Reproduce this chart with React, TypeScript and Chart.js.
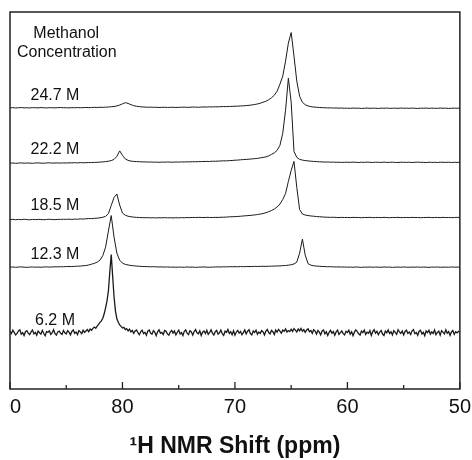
import React, { useEffect, useRef } from "react";
import { Chart, registerables } from "chart.js";

Chart.register(...registerables);

// Chemical shift grid (ppm), 90 -> 50, used by the 12.3–24.7 M spectra
const ppm = [
  90, 89.75, 89.5, 89.25, 89, 88.75, 88.5, 88.25, 88, 87.75, 87.5, 87.25, 87, 86.75, 86.5, 86.25, 86, 85.75, 85.5, 85.25,
  85, 84.75, 84.5, 84.25, 84, 83.75, 83.5, 83.25, 83, 82.75, 82.5, 82.25, 82, 81.75, 81.5, 81.25, 81, 80.75, 80.5, 80.25,
  80, 79.75, 79.5, 79.25, 79, 78.75, 78.5, 78.25, 78, 77.75, 77.5, 77.25, 77, 76.75, 76.5, 76.25, 76, 75.75, 75.5, 75.25,
  75, 74.75, 74.5, 74.25, 74, 73.75, 73.5, 73.25, 73, 72.75, 72.5, 72.25, 72, 71.75, 71.5, 71.25, 71, 70.75, 70.5, 70.25,
  70, 69.75, 69.5, 69.25, 69, 68.75, 68.5, 68.25, 68, 67.75, 67.5, 67.25, 67, 66.75, 66.5, 66.25, 66, 65.75, 65.5, 65.25,
  65, 64.75, 64.5, 64.25, 64, 63.75, 63.5, 63.25, 63, 62.75, 62.5, 62.25, 62, 61.75, 61.5, 61.25, 61, 60.75, 60.5, 60.25,
  60, 59.75, 59.5, 59.25, 59, 58.75, 58.5, 58.25, 58, 57.75, 57.5, 57.25, 57, 56.75, 56.5, 56.25, 56, 55.75, 55.5, 55.25,
  55, 54.75, 54.5, 54.25, 54, 53.75, 53.5, 53.25, 53, 52.75, 52.5, 52.25, 52, 51.75, 51.5, 51.25, 51, 50.75, 50.5, 50.25,
  50,
];

// finer grid for the noisy 6.2 M spectrum
const ppmFine = [
  90, 89.875, 89.75, 89.625, 89.5, 89.375, 89.25, 89.125, 89, 88.875, 88.75, 88.625, 88.5, 88.375, 88.25, 88.125, 88, 87.875, 87.75, 87.625,
  87.5, 87.375, 87.25, 87.125, 87, 86.875, 86.75, 86.625, 86.5, 86.375, 86.25, 86.125, 86, 85.875, 85.75, 85.625, 85.5, 85.375, 85.25, 85.125,
  85, 84.875, 84.75, 84.625, 84.5, 84.375, 84.25, 84.125, 84, 83.875, 83.75, 83.625, 83.5, 83.375, 83.25, 83.125, 83, 82.875, 82.75, 82.625,
  82.5, 82.375, 82.25, 82.125, 82, 81.875, 81.75, 81.625, 81.5, 81.375, 81.25, 81.125, 81, 80.875, 80.75, 80.625, 80.5, 80.375, 80.25, 80.125,
  80, 79.875, 79.75, 79.625, 79.5, 79.375, 79.25, 79.125, 79, 78.875, 78.75, 78.625, 78.5, 78.375, 78.25, 78.125, 78, 77.875, 77.75, 77.625,
  77.5, 77.375, 77.25, 77.125, 77, 76.875, 76.75, 76.625, 76.5, 76.375, 76.25, 76.125, 76, 75.875, 75.75, 75.625, 75.5, 75.375, 75.25, 75.125,
  75, 74.875, 74.75, 74.625, 74.5, 74.375, 74.25, 74.125, 74, 73.875, 73.75, 73.625, 73.5, 73.375, 73.25, 73.125, 73, 72.875, 72.75, 72.625,
  72.5, 72.375, 72.25, 72.125, 72, 71.875, 71.75, 71.625, 71.5, 71.375, 71.25, 71.125, 71, 70.875, 70.75, 70.625, 70.5, 70.375, 70.25, 70.125,
  70, 69.875, 69.75, 69.625, 69.5, 69.375, 69.25, 69.125, 69, 68.875, 68.75, 68.625, 68.5, 68.375, 68.25, 68.125, 68, 67.875, 67.75, 67.625,
  67.5, 67.375, 67.25, 67.125, 67, 66.875, 66.75, 66.625, 66.5, 66.375, 66.25, 66.125, 66, 65.875, 65.75, 65.625, 65.5, 65.375, 65.25, 65.125,
  65, 64.875, 64.75, 64.625, 64.5, 64.375, 64.25, 64.125, 64, 63.875, 63.75, 63.625, 63.5, 63.375, 63.25, 63.125, 63, 62.875, 62.75, 62.625,
  62.5, 62.375, 62.25, 62.125, 62, 61.875, 61.75, 61.625, 61.5, 61.375, 61.25, 61.125, 61, 60.875, 60.75, 60.625, 60.5, 60.375, 60.25, 60.125,
  60, 59.875, 59.75, 59.625, 59.5, 59.375, 59.25, 59.125, 59, 58.875, 58.75, 58.625, 58.5, 58.375, 58.25, 58.125, 58, 57.875, 57.75, 57.625,
  57.5, 57.375, 57.25, 57.125, 57, 56.875, 56.75, 56.625, 56.5, 56.375, 56.25, 56.125, 56, 55.875, 55.75, 55.625, 55.5, 55.375, 55.25, 55.125,
  55, 54.875, 54.75, 54.625, 54.5, 54.375, 54.25, 54.125, 54, 53.875, 53.75, 53.625, 53.5, 53.375, 53.25, 53.125, 53, 52.875, 52.75, 52.625,
  52.5, 52.375, 52.25, 52.125, 52, 51.875, 51.75, 51.625, 51.5, 51.375, 51.25, 51.125, 51, 50.875, 50.75, 50.625, 50.5, 50.375, 50.25, 50.125,
  50,
];

const concentrations = ["6.2 M", "12.3 M", "18.5 M", "22.2 M", "24.7 M"];
// vertical stacking offset of each spectrum (intensity units)
const offsets = [56, 121.5, 171, 226, 280];

const spec62 = [
  1.5, -0.8, 2.6, 0.4, -2.1, -0.6, 1.9, 3.0, -1.4, 0.2, -2.7, 1.1, 2.2, -0.3, -1.8, 0.9, 2.8, -1.0, 0.5, -2.4,
  1.7, 0.1, -1.2, 2.5, -0.7, -2.9, 1.3, 0.6, 2.0, -1.5, 0.3, 3.1, -0.9, -2.2, 1.0, 1.8, -0.4, -1.6, 2.4, 0.0,
  -1.1, 2.2, 0.7, -2.0, 1.4, 2.9, -0.5, 0.8, -1.7, 2.3, 1.0, -0.9, 2.7, 0.4, 1.9, 3.3, 1.2, 3.8, 2.6, 4.5,
  5.8, 4.6, 6.8, 8.5, 10.5, 12, 14.5, 19, 25, 32, 42, 61, 78, 57, 36, 22, 14, 10.5, 8, 6.5,
  4.8, 5.5, 3.2, 4.1, 2.0, 3.6, 0.9, 2.4, -0.6, 1.8, 2.9, 0.3, -1.9, 1.2, 2.6, -0.8, 0.5, -2.5, 1.6, 2.8,
  -0.2, -1.4, 2.1, 0.7, -2.8, 1.0, 3.0, -0.5, 0.4, -1.7, 2.3, 1.5, -1.1, -2.4, 0.8, 2.5, -0.3, 1.9, -2.0, 0.6,
  2.7, -1.2, 0.2, -2.6, 1.5, 2.9, -0.4, -1.8, 2.2, 0.9, -2.3, 1.3, 3.2, 0.1, -1.0, 2.0, -2.7, 0.6, 1.8, -0.7,
  2.6, -1.5, 0.4, 3.0, -0.2, -2.1, 1.1, 2.4, -1.3, 0.0, 2.8, -0.9, -2.5, 1.7, 0.5, 3.4, -0.6, 1.2, -1.9, 2.1,
  -2.4, 0.8, 2.5, -0.3, 1.4, -1.8, 0.2, 2.9, -1.1, 1.6, 3.1, -0.7, -2.0, 1.9, 0.4, 2.6, -1.4, 0.9, -0.5, 2.2,
  1.0, -2.2, 1.7, 3.3, 0.3, -1.0, 2.4, 1.1, -1.6, 2.9, 0.6, 3.5, 1.8, -0.4, 2.7, 1.5, 3.9, 0.8, 2.3, 1.2,
  3.6, 1.4, 4.2, 2.7, 0.9, 3.8, 2.1, 4.5, 1.6, 3.2, 0.5, 2.9, 4.0, 1.2, 2.4, -0.6, 3.1, 1.8, -1.2, 2.3,
  0.7, -2.0, 1.9, 2.8, -0.9, 1.1, -2.6, 0.6, 2.5, -0.4, 1.4, -2.3, 0.9, 2.7, -1.5, 0.3, 2.0, -0.8, -2.1, 1.6,
  0.4, 2.6, -1.3, 1.0, -2.8, 0.7, 3.0, 1.3, -1.0, -2.2, 1.9, 0.2, 2.8, -1.6, 0.6, -0.4, 2.3, -2.5, 1.2, 3.2,
  -0.3, 1.5, -1.9, 0.8, 2.4, -1.2, -2.6, 1.7, 0.1, 2.9, -0.7, 1.1, -2.0, 2.2, 0.5, -1.5, 3.1, 0.9, -0.6, 1.8,
  -2.1, 1.4, 2.7, -0.5, 0.8, -1.7, 2.0, 3.2, -0.8, 0.3, -2.4, 1.6, 2.5, -1.1, 0.6, -2.9, 1.9, 0.2, 2.6, -1.3,
  1.0, -0.6, 2.9, -1.8, 0.4, 1.7, -2.3, 2.2, 0.7, -1.0, 3.0, -0.4, 1.3, -2.5, 0.9, 2.4, -1.6, 1.1, 0.0, 1.5,
  0.8,
];

const spec123 = [
  0.0, 0.2, -0.1, 0.1, 0.3, 0.0, -0.2, 0.1, 0.2, 0.0, 0.1, -0.1, 0.2, 0.3, 0.1, 0.2, 0.4, 0.3, 0.5, 0.4,
  0.6, 0.7, 0.6, 0.8, 1.0, 1.1, 1.4, 1.6, 2.2, 3.0, 3.8, 5.0, 7.0, 11.5, 20, 36, 51.5, 30, 14, 7,
  4.0, 2.8, 2.2, 1.7, 1.4, 1.1, 0.9, 0.7, 0.6, 0.5, 0.4, 0.5, 0.3, 0.2, 0.3, 0.1, 0.2, 0.0, 0.1, -0.1,
  0.1, 0.0, -0.1, 0.2, 0.0, 0.1, -0.2, 0.0, 0.1, 0.2, 0.0, -0.1, 0.1, 0.2, 0.3, 0.2, 0.4, 0.3, 0.5, 0.4,
  0.5, 0.4, 0.6, 0.5, 0.6, 0.7, 0.6, 0.8, 0.7, 0.8, 0.9, 0.8, 0.9, 1.0, 1.1, 1.2, 1.3, 1.5, 1.7, 2.0,
  2.4, 3.2, 5.0, 14, 28, 12, 3.5, 2.0, 1.4, 1.1, 0.9, 0.7, 0.6, 0.4, 0.5, 0.3, 0.2, 0.3, 0.1, 0.2,
  0.0, 0.1, -0.1, 0.2, 0.0, -0.2, 0.1, 0.0, 0.2, -0.1, 0.1, 0.0, -0.1, 0.2, 0.0, 0.1, -0.2, 0.0, 0.1, -0.1,
  0.2, 0.0, -0.1, 0.1, 0.0, 0.2, -0.1, 0.1, 0.0, -0.2, 0.1, 0.0, 0.2, -0.1, 0.0, 0.1, -0.1, 0.2, 0.0, 0.1,
  0.0,
];

const spec185 = [
  -2.0, -1.8, -2.2, -1.9, -2.1, -1.7, -2.0, -2.3, -1.9, -2.1, -1.8, -2.0, -2.2, -1.9, -1.7, -2.0, -2.1, -1.8, -1.9, -1.7,
  -1.8, -1.6, -1.9, -1.5, -1.7, -1.4, -1.5, -1.2, -1.0, -1.1, -0.8, -0.6, -0.3, 0.3, 1.2, 4.0, 12, 20, 23.5, 12.5,
  4.5, 2.3, 1.3, 0.8, 0.4, 0.2, 0.0, -0.1, -0.2, -0.1, -0.3, -0.2, -0.4, -0.2, -0.3, -0.1, -0.3, -0.2, -0.4, -0.2,
  -0.3, -0.1, -0.2, 0.0, -0.1, 0.1, 0.0, 0.2, 0.1, 0.0, 0.2, 0.1, 0.0, 0.2, 0.1, 0.3, 0.3, 0.5, 0.7, 0.8,
  0.9, 1.1, 1.3, 1.6, 1.8, 2.0, 2.3, 2.6, 3.0, 3.5, 4.0, 4.8, 5.8, 7.0, 8.5, 10.5, 13.5, 18, 24, 36,
  47, 56, 30, 8, 3.5, 2.5, 2.0, 1.6, 1.3, 1.0, 0.8, 0.6, 0.4, 0.3, 0.2, 0.3, 0.1, 0.0, 0.2, 0.0,
  0.1, -0.1, 0.2, 0.0, 0.1, -0.2, 0.1, 0.0, 0.2, -0.1, 0.0, 0.1, -0.1, 0.2, 0.0, -0.2, 0.1, 0.0, 0.2, -0.1,
  0.0, 0.1, -0.1, 0.2, 0.0, 0.1, -0.2, 0.0, 0.1, 0.2, -0.1, 0.0, 0.1, -0.1, 0.2, 0.0, 0.1, -0.1, 0.0, 0.2,
  0.0,
];

const spec222 = [
  -0.8, -0.6, -0.9, -0.7, -0.5, -0.8, -0.6, -0.7, -0.9, -0.6, -0.5, -0.7, -0.8, -0.6, -0.4, -0.7, -0.6, -0.5, -0.7, -0.5,
  -0.6, -0.4, -0.5, -0.3, -0.5, -0.2, -0.4, -0.3, -0.1, -0.2, 0.0, 0.1, 0.3, 0.5, 0.8, 1.2, 1.8, 3.0, 6.0, 11.5,
  7.0, 3.5, 2.0, 1.3, 1.0, 0.8, 0.7, 0.5, 0.5, 0.3, 0.4, 0.2, 0.3, 0.1, 0.3, 0.2, 0.4, 0.3, 0.2, 0.4,
  0.3, 0.5, 0.4, 0.6, 0.5, 0.7, 0.6, 0.8, 0.8, 0.9, 1.0, 0.9, 1.2, 1.1, 1.3, 1.4, 1.6, 1.5, 1.8, 1.9,
  2.2, 2.3, 2.6, 2.8, 3.0, 3.2, 3.5, 3.7, 4.0, 4.5, 5.0, 5.5, 6.5, 8.0, 9.5, 12, 17, 29, 52, 84,
  60, 11, 5, 3, 2.3, 1.8, 1.5, 1.2, 1.0, 0.8, 0.6, 0.5, 0.3, 0.4, 0.2, 0.3, 0.1, 0.2, 0.0, 0.1,
  0.2, 0.0, 0.3, 0.1, -0.1, 0.2, 0.0, 0.3, 0.1, -0.1, 0.2, 0.1, 0.0, 0.3, -0.1, 0.1, 0.2, 0.0, -0.1, 0.2,
  0.1, 0.0, 0.2, -0.1, 0.1, 0.3, 0.0, 0.1, -0.2, 0.2, 0.0, 0.1, -0.1, 0.2, 0.1, 0.0, 0.2, -0.1, 0.1, 0.0,
  0.1,
];

const spec247 = [
  0.4, 0.6, 0.3, 0.5, 0.7, 0.4, 0.5, 0.3, 0.6, 0.5, 0.4, 0.7, 0.5, 0.3, 0.6, 0.5, 0.4, 0.6, 0.7, 0.5,
  0.5, 0.4, 0.6, 0.5, 0.7, 0.5, 0.6, 0.8, 0.6, 0.7, 0.9, 0.8, 1.0, 0.9, 1.1, 1.2, 1.5, 1.8, 2.3, 3.2,
  4.4, 5.6, 4.8, 3.6, 2.6, 2.0, 1.6, 1.3, 1.2, 1.0, 1.1, 0.9, 1.0, 0.8, 0.9, 1.0, 0.8, 0.9, 1.0, 0.8,
  0.9, 1.0, 1.1, 0.9, 1.0, 1.2, 1.1, 1.0, 1.2, 1.3, 1.2, 1.4, 1.3, 1.5, 1.4, 1.6, 1.7, 1.6, 1.8, 1.9,
  2.0, 2.1, 2.3, 2.4, 2.7, 2.9, 3.3, 3.7, 4.3, 5.0, 6.0, 7.0, 8.5, 10.5, 13, 17, 24, 32, 47, 65,
  75.5, 52, 27, 12, 6, 3.5, 2.3, 1.6, 1.2, 1.0, 0.8, 0.6, 0.5, 0.3, 0.4, 0.2, 0.3, 0.1, 0.2, 0.0,
  0.1, -0.1, 0.2, 0.0, 0.1, -0.2, 0.0, 0.2, -0.1, 0.1, 0.0, -0.2, 0.1, 0.0, 0.2, -0.1, 0.0, 0.1, -0.1, 0.2,
  0.0, 0.1, -0.1, 0.2, 0.0, -0.2, 0.1, 0.0, 0.2, -0.1, 0.1, 0.0, -0.1, 0.2, 0.0, 0.1, -0.2, 0.0, 0.1, 0.0,
  0.1,
];

const spectra = [spec62, spec123, spec185, spec222, spec247];
const grids = [ppmFine, ppm, ppm, ppm, ppm];

const majorTicks = [90, 80, 70, 60, 50];
const minorTicks = [85, 75, 65, 55];

const FONT = '"Liberation Sans", Arial, Helvetica, sans-serif';
const INK = "#111";

const overlayPlugin = {
  id: "nmrOverlay",
  afterDatasetsDraw(chart: any) {
    const { ctx, chartArea: a } = chart;
    const x = chart.scales.x;
    const y = chart.scales.y;
    ctx.save();
    // frame
    ctx.strokeStyle = "#222";
    ctx.lineWidth = 1.5;
    ctx.strokeRect(a.left, a.top, a.right - a.left, a.bottom - a.top);
    // inward ticks on bottom axis
    ctx.lineWidth = 1.3;
    ctx.beginPath();
    for (const v of majorTicks) {
      const px = x.getPixelForValue(v);
      ctx.moveTo(px, a.bottom);
      ctx.lineTo(px, a.bottom - 7);
    }
    for (const v of minorTicks) {
      const px = x.getPixelForValue(v);
      ctx.moveTo(px, a.bottom);
      ctx.lineTo(px, a.bottom - 4);
    }
    ctx.stroke();
    // texts
    ctx.fillStyle = INK;
    ctx.font = `16px ${FONT}`;
    ctx.textAlign = "center";
    ctx.textBaseline = "alphabetic";
    ctx.fillText("Methanol", x.getPixelForValue(85), a.top + 26);
    ctx.fillText("Concentration", x.getPixelForValue(84.95), a.top + 45);
    concentrations.forEach((t, i) => {
      ctx.fillText(t, x.getPixelForValue(86), y.getPixelForValue(offsets[i] + 8));
    });
    ctx.restore();
  },
};

export default function App() {
  const ref = useRef<HTMLCanvasElement | null>(null);
  useEffect(() => {
    if (!ref.current) return;
    const datasets = spectra.map((s, k) => ({
      label: concentrations[k],
      data: grids[k].map((p, i) => ({ x: p, y: offsets[k] + s[i] })),
      borderColor: "#1a1a1a",
      borderWidth: k === 0 ? 1.3 : 1,
      pointRadius: 0,
      tension: 0,
      fill: false,
    }));
    const chart = new Chart(ref.current, {
      type: "line",
      data: { datasets },
      options: {
        animation: false,
        responsive: false,
        events: [],
        layout: { padding: { left: 20, right: 12, top: 12, bottom: 0 } },
        plugins: { legend: { display: false }, tooltip: { enabled: false } },
        scales: {
          x: {
            type: "linear",
            reverse: true,
            min: 50,
            max: 90,
            grid: { display: false, drawTicks: false },
            border: { display: false },
            ticks: {
              stepSize: 10,
              autoSkip: false,
              maxRotation: 0,
              padding: 6,
              color: INK,
              font: { family: FONT, size: 20 },
            },
            title: {
              display: true,
              text: "¹H NMR Shift (ppm)",
              color: INK,
              font: { family: FONT, size: 23, weight: "bold" },
              padding: { top: 7.4, bottom: 0 },
            },
          },
          y: {
            type: "linear",
            display: false,
            min: 0,
            max: 376,
          },
        },
      },
      plugins: [overlayPlugin],
    });
    return () => chart.destroy();
  }, []);

  return (
    <div
      style={{
        position: "absolute",
        left: 9,
        top: 0,
        width: 463,
        height: 460,
        overflow: "hidden",
        background: "#fff",
      }}
    >
      <canvas
        ref={ref}
        width={487}
        height={460}
        style={{ position: "absolute", left: -19, top: 0, width: 487, height: 460 }}
      />
    </div>
  );
}
